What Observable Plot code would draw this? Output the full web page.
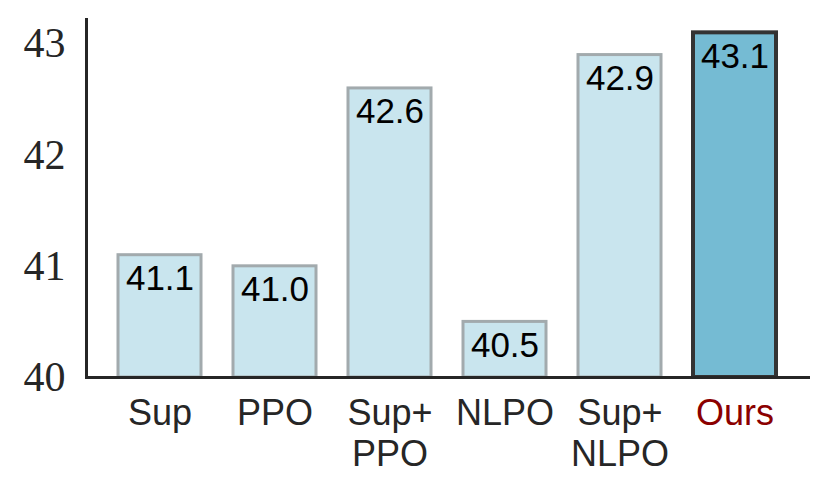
<!DOCTYPE html>
<html>
<head>
<meta charset="utf-8">
<script src="https://cdn.jsdelivr.net/npm/d3@7"></script>
<script src="https://cdn.jsdelivr.net/npm/@observablehq/plot@0.6"></script>
<style>
  html, body { margin: 0; padding: 0; background: #fff; }
</style>
</head>
<body>
<div id="chart"></div>
<script>
const methods = ["Sup", "PPO", "Sup+PPO", "NLPO", "Sup+NLPO", "Ours"];
const labels = ["Sup", "PPO", "Sup+\nPPO", "NLPO", "Sup+\nNLPO", "Ours"];
const scores = [41.1, 41.0, 42.6, 40.5, 42.9, 43.1];
const yTicks = [40, 41, 42, 43];

const data = methods.map((m, i) => ({method: m, label: labels[i], score: scores[i], ours: m === "Ours"}));

const chart = Plot.plot({
  width: 829,
  height: 496,
  marginLeft: 86,
  marginRight: 21,
  marginTop: 19,
  marginBottom: 119,
  x: {domain: methods, paddingInner: 0.28, paddingOuter: 0.27, axis: null},
  y: {domain: [40, 43.22], axis: null},
  marks: [
    Plot.barY(data, {
      x: "method", y1: 40, y2: "score",
      fill: d => d.ours ? "#75bbd3" : "#c9e5ee",
      stroke: d => d.ours ? "#333333" : "#a2aaad",
      strokeWidth: d => d.ours ? 4 : 3
    }),
    Plot.text(data, {
      x: "method", y: "score", text: d => d.score.toFixed(1),
      lineAnchor: "top", dy: 10, fontSize: 35,
      fontFamily: "Liberation Sans, Arial, sans-serif", fill: "#000"
    }),
    Plot.axisY(yTicks, {
      tickSize: 0, tickPadding: 21, fontSize: 42, label: null,
      fontFamily: "Liberation Serif, serif", fill: "#262626",
      tickFormat: d => String(d)
    }),
    Plot.text(data, {
      x: "method", text: "label", frameAnchor: "bottom",
      lineAnchor: "top", lineHeight: 1.14, dy: 18, fontSize: 36,
      fontFamily: "Liberation Sans, Arial, sans-serif",
      fill: d => d.ours ? "#8b0000" : "#262626"
    }),
    Plot.frame({anchor: "left", stroke: "#262626", strokeWidth: 3, strokeOpacity: 1}),
    Plot.frame({anchor: "bottom", stroke: "#262626", strokeWidth: 3, strokeOpacity: 1})
  ]
});
document.getElementById("chart").appendChild(chart);
</script>
</body>
</html>
